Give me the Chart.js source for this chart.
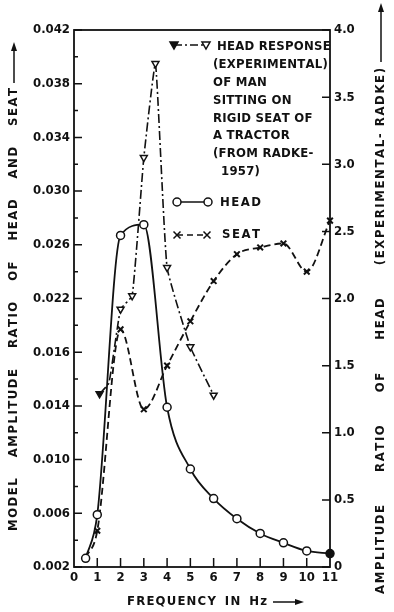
<!DOCTYPE html>
<html>
<head>
<meta charset="utf-8">
<script src="https://cdn.jsdelivr.net/npm/chart.js@4.4.1/dist/chart.umd.min.js"></script>
<style>
    html, body { margin: 0; padding: 0; background: #fff; }
    canvas { display: block; }
</style>
</head>
<body>
<canvas id="chart" width="394" height="612"></canvas>
<script>
// values
var freqHead = [0.5, 1, 2, 3, 4, 5, 6, 7, 8, 9, 10, 11];
var headAmp = [0.00265, 0.0059, 0.0267, 0.0275, 0.0139, 0.0093, 0.0071, 0.0056, 0.0045, 0.0038, 0.0032, 0.003];

var freqSeat = [0.5, 1, 2, 3, 4, 5, 6, 7, 8, 9, 10, 11];
var seatAmp = [0.0027, 0.0047, 0.0197, 0.01375, 0.017, 0.0203, 0.0233, 0.0253, 0.0258, 0.0261, 0.024, 0.0278];

var freqResponse = [1.1, 1.5, 2, 2.5, 3, 3.5, 4, 5, 6];
var responseAmp = [1.29, 1.37, 1.92, 2.02, 3.05, 3.75, 2.23, 1.64, 1.28];

var xTickLabels = ['0', '1', '2', '3', '4', '5', '6', '7', '8', '9', '10', '11'];
var leftTickValues = [0.002, 0.006, 0.010, 0.014, 0.018, 0.022, 0.026, 0.030, 0.034, 0.038, 0.042];
var leftTickLabels = ['0.002', '0.006', '0.010', '0.014', '0.016', '0.022', '0.026', '0.030', '0.034', '0.038', '0.042'];
var rightTickValues = [0, 0.5, 1, 1.5, 2, 2.5, 3, 3.5, 4];
var rightTickLabels = ['0', '0.5', '1.0', '1.5', '2.0', '2.5', '3.0', '3.5', '4.0'];

var legendText = ['HEAD RESPONSE', '(EXPERIMENTAL)', 'OF MAN', 'SITTING ON', 'RIGID SEAT OF', 'A TRACTOR', '(FROM RADKE-', '1957)'];
var leftTitle = ['MODEL', 'AMPLITUDE', 'RATIO', 'OF', 'HEAD', 'AND', 'SEAT'];
var rightTitle = ['AMPLITUDE', 'RATIO', 'OF', 'HEAD', '(EXPERIMENTAL- RADKE)'];
var xTitle = ['FREQUENCY', 'IN', 'Hz'];

var FONT = "'DejaVu Sans Condensed', 'DejaVu Sans', sans-serif";
var INK = '#111';

function pts(xs, ys) {
    return xs.map(function (x, i) { return {x: x, y: ys[i]}; });
}

// text drawn one char at a time so the spacing can be stretched like the scan
function charsWidth(c, w) {
    var sum = 0;
    for (var i = 0; i < w.length; i++) sum += c.measureText(w[i]).width;
    return sum;
}

function drawChars(c, w, x, ls) {
    for (var i = 0; i < w.length; i++) {
        c.fillText(w[i], x, 0);
        x += c.measureText(w[i]).width + ls;
    }
    return x - ls;
}

function drawWords(c, words, len, ls) {
    var sum = 0;
    words.forEach(function (w) { sum += charsWidth(c, w) + ls * (w.length - 1); });
    var gap = (len - sum) / Math.max(1, words.length - 1);
    var x = 0;
    words.forEach(function (w) { x = drawChars(c, w, x, ls) + gap; });
}

function arrow(c, x1, y1, x2, y2) {
    var ang = Math.atan2(y2 - y1, x2 - x1);
    var cs = Math.cos(ang), sn = Math.sin(ang);
    c.beginPath();
    c.moveTo(x1, y1);
    c.lineTo(x2 - 6 * cs, y2 - 6 * sn);
    c.stroke();
    c.beginPath();
    c.moveTo(x2, y2);
    c.lineTo(x2 - 9 * cs + 3 * sn, y2 - 9 * sn - 3 * cs);
    c.lineTo(x2 - 9 * cs - 3 * sn, y2 - 9 * sn + 3 * cs);
    c.closePath();
    c.fill();
}

function mark(c, type, x, y, filled) {
    c.beginPath();
    if (type === 'circle') {
        c.arc(x, y, 4, 0, Math.PI * 2);
        c.fillStyle = '#fff';
        c.fill();
        c.stroke();
    } else if (type === 'cross') {
        c.moveTo(x - 3.5, y - 3.5); c.lineTo(x + 3.5, y + 3.5);
        c.moveTo(x + 3.5, y - 3.5); c.lineTo(x - 3.5, y + 3.5);
        c.stroke();
    } else {
        c.moveTo(x - 4, y - 3); c.lineTo(x + 4, y - 3); c.lineTo(x, y + 4); c.closePath();
        c.fillStyle = filled ? INK : '#fff';
        c.fill();
        c.stroke();
    }
    c.fillStyle = INK;
}

var decor = {
    id: 'decor',
    afterDraw: function (chart) {
        var c = chart.ctx, a = chart.chartArea;
        var sx = chart.scales.x, sy = chart.scales.y, sr = chart.scales.y1;
        c.save();
        c.strokeStyle = INK;
        c.fillStyle = INK;

        // frame and inward ticks
        c.lineWidth = 1.8;
        c.strokeRect(a.left, a.top, a.right - a.left, a.bottom - a.top);
        c.lineWidth = 1.5;
        c.beginPath();
        for (var i = 0; i <= 20; i++) {
            var py = sy.getPixelForValue(0.002 + i * 0.002);
            c.moveTo(a.left, py);
            c.lineTo(a.left + (i % 2 === 0 ? 8 : 4), py);
        }
        rightTickValues.forEach(function (v) {
            var p = sr.getPixelForValue(v);
            c.moveTo(a.right, p);
            c.lineTo(a.right - 8, p);
        });
        for (var k = 1; k <= 10; k++) {
            var px = sx.getPixelForValue(k);
            c.moveTo(px, a.bottom);
            c.lineTo(px, a.bottom - 9);
        }
        c.stroke();

        // axis titles
        c.font = 'bold 13px ' + FONT;
        c.textBaseline = 'middle';
        c.textAlign = 'left';

        c.save();
        c.translate(14, 531);
        c.rotate(-Math.PI / 2);
        drawWords(c, leftTitle, 443, 1.5);
        c.restore();
        arrow(c, 14, 83, 14, 42);

        c.save();
        c.translate(381, 594);
        c.rotate(-Math.PI / 2);
        drawWords(c, rightTitle, 526, 1.6);
        c.restore();
        arrow(c, 381, 62, 381, 3);

        c.save();
        c.translate(127, 602);
        drawWords(c, xTitle, 140, 1.2);
        c.restore();
        arrow(c, 273, 602, 304, 602);

        // legend block inside the plot
        c.lineWidth = 1.5;
        c.setLineDash([8, 3, 2, 3]);
        c.beginPath(); c.moveTo(174, 45); c.lineTo(206, 45); c.stroke();
        c.setLineDash([]);
        mark(c, 'tri', 174, 45, true);
        mark(c, 'tri', 206, 45);

        c.beginPath(); c.moveTo(177, 202); c.lineTo(208, 202); c.stroke();
        mark(c, 'circle', 177, 202);
        mark(c, 'circle', 208, 202);

        c.setLineDash([6, 4]);
        c.beginPath(); c.moveTo(177, 235); c.lineTo(207, 235); c.stroke();
        c.setLineDash([]);
        mark(c, 'cross', 177, 235);
        mark(c, 'cross', 207, 235);

        legendText.forEach(function (t, j) {
            var lx = j === 0 ? 217 : (j === legendText.length - 1 ? 221 : 213);
            c.save();
            c.translate(lx, 47 + j * 17.8);
            drawChars(c, t, 0, 0.25);
            c.restore();
        });
        c.save(); c.translate(220, 203); drawChars(c, 'HEAD', 0, 1.5); c.restore();
        c.save(); c.translate(222, 235); drawChars(c, 'SEAT', 0, 1.5); c.restore();

        c.restore();
    }
};

var tickFont = {family: FONT, size: 13, weight: 'bold'};

new Chart(document.getElementById('chart').getContext('2d'), {
    type: 'line',
    data: {
        datasets: [{
            label: 'HEAD',
            data: pts(freqHead, headAmp),
            yAxisID: 'y',
            borderColor: INK,
            borderWidth: 1.8,
            pointStyle: 'circle',
            pointRadius: 4,
            pointBorderColor: INK,
            pointBorderWidth: 1.5,
            pointBackgroundColor: function (ctx) {
                return ctx.dataIndex === freqHead.length - 1 ? INK : '#fff';
            },
            cubicInterpolationMode: 'monotone',
            clip: false
        }, {
            label: 'SEAT',
            data: pts(freqSeat, seatAmp),
            yAxisID: 'y',
            borderColor: INK,
            borderWidth: 1.8,
            borderDash: [7, 4],
            pointStyle: 'crossRot',
            pointRadius: function (ctx) { return ctx.dataIndex === 0 ? 0 : 4; },
            pointBorderColor: INK,
            pointBorderWidth: 2,
            cubicInterpolationMode: 'monotone',
            clip: false
        }, {
            label: 'HEAD RESPONSE',
            data: pts(freqResponse, responseAmp),
            yAxisID: 'y1',
            borderColor: INK,
            borderWidth: 1.6,
            borderDash: [9, 3, 2, 3],
            pointStyle: 'triangle',
            pointRotation: 180,
            pointRadius: function (ctx) { return ctx.dataIndex === 1 ? 0 : 4; },
            pointBorderColor: INK,
            pointBorderWidth: 1.5,
            pointBackgroundColor: function (ctx) { return ctx.dataIndex === 0 ? INK : '#fff'; },
            tension: 0.12,
            clip: false
        }]
    },
    options: {
        responsive: false,
        animation: false,
        devicePixelRatio: 1,
        layout: {padding: {top: 30}},
        plugins: {legend: {display: false}, tooltip: {enabled: false}},
        scales: {
            x: {
                type: 'linear', position: 'bottom', min: 0, max: 11,
                grid: {display: false, drawTicks: false}, border: {display: false},
                afterBuildTicks: function (s) { s.ticks = xTickLabels.map(function (t, i) { return {value: i}; }); },
                ticks: {
                    autoSkip: false, maxRotation: 0, padding: 3, color: INK, font: tickFont,
                    callback: function (v, i) { return xTickLabels[i]; }
                },
                afterFit: function (s) { s.height = 45; }
            },
            y: {
                type: 'linear', position: 'left', min: 0.002, max: 0.042,
                grid: {display: false, drawTicks: false}, border: {display: false},
                afterBuildTicks: function (s) { s.ticks = leftTickValues.map(function (v) { return {value: v}; }); },
                ticks: {
                    autoSkip: false, padding: 4, color: INK, font: tickFont,
                    callback: function (v, i) { return leftTickLabels[i]; }
                },
                afterFit: function (s) { s.width = 74; }
            },
            y1: {
                type: 'linear', position: 'right', min: 0, max: 4,
                grid: {display: false, drawTicks: false}, border: {display: false},
                afterBuildTicks: function (s) { s.ticks = rightTickValues.map(function (v) { return {value: v}; }); },
                ticks: {
                    autoSkip: false, padding: 4, color: INK, font: tickFont,
                    callback: function (v, i) { return rightTickLabels[i]; }
                },
                afterFit: function (s) { s.width = 64; }
            }
        }
    },
    plugins: [decor]
});
</script>
</body>
</html>
